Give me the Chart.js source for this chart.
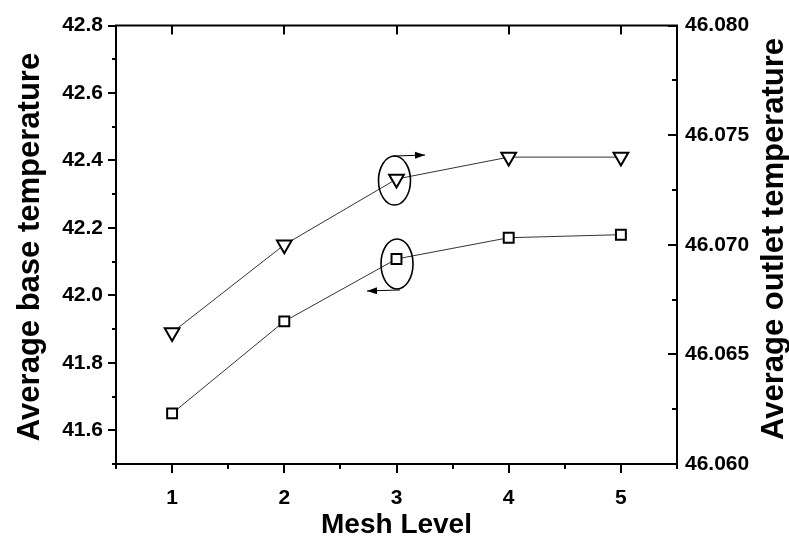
<!DOCTYPE html>
<html>
<head>
<meta charset="utf-8">
<script src="https://cdn.jsdelivr.net/npm/chart.js@4.4.0/dist/chart.umd.min.js"></script>
<style>
  html, body { margin: 0; padding: 0; background: #fff; }
  #wrap { width: 789px; height: 547px; }
</style>
</head>
<body>
<div id="wrap"><canvas id="c" width="789" height="547"></canvas></div>
<script>
// Mesh refinement study: base temperature (left axis) and outlet temperature (right axis)
const meshLevels = [1, 2, 3, 4, 5];
const baseTemperature = [41.650, 41.923, 42.108, 42.171, 42.180];
const outletTemperature = [46.0660, 46.0700, 46.0730, 46.0740, 46.0740];

const xTicks = [1, 2, 3, 4, 5];
const xMinorTicks = [0.5, 1.5, 2.5, 3.5, 4.5, 5.5];
const baseTicks = [41.6, 41.8, 42.0, 42.2, 42.4, 42.6, 42.8];
const baseMinorTicks = [41.5, 41.7, 41.9, 42.1, 42.3, 42.5, 42.7];
const outletTicks = [46.060, 46.065, 46.070, 46.075, 46.080];
const outletMinorTicks = [46.0625, 46.0675, 46.0725, 46.0775];

const xTitle = 'Mesh Level';
const baseTitle = 'Average base temperature';
const outletTitle = 'Average outlet temperature';

const FONT = '"Liberation Sans", Arial, sans-serif';

function fixedTicks(values) {
  return scale => { scale.ticks = values.map(v => ({ value: v })); };
}

// Frame, major/minor tick marks, rotated axis titles and the circled-point callouts
const decor = {
  id: 'decor',
  afterDraw(chart) {
    const { ctx, chartArea: a, scales: { x, y, y1 } } = chart;
    ctx.save();
    ctx.strokeStyle = '#000';
    ctx.lineWidth = 2;
    ctx.lineCap = 'butt';
    const seg = (x1, y1_, x2, y2) => { ctx.beginPath(); ctx.moveTo(x1, y1_); ctx.lineTo(x2, y2); ctx.stroke(); };

    // top frame line
    seg(a.left - 1, a.top, a.right + 1, a.top);

    // left axis: outward ticks
    baseTicks.forEach(v => { const p = Math.round(y.getPixelForValue(v)); seg(a.left - 8, p, a.left, p); });
    baseMinorTicks.forEach(v => { const p = Math.round(y.getPixelForValue(v)); seg(a.left - 4, p, a.left, p); });

    // right axis: inward ticks
    outletTicks.forEach(v => { const p = Math.round(y1.getPixelForValue(v)); seg(a.right - 9, p, a.right, p); });
    outletMinorTicks.forEach(v => { const p = Math.round(y1.getPixelForValue(v)); seg(a.right - 5, p, a.right, p); });

    // bottom axis: outward ticks; top edge: inward major ticks
    xTicks.forEach(v => {
      const p = Math.round(x.getPixelForValue(v));
      seg(p, a.bottom, p, a.bottom + 9);
      seg(p, a.top, p, a.top + 9);
    });
    xMinorTicks.forEach(v => { const p = Math.round(x.getPixelForValue(v)); seg(p, a.bottom, p, a.bottom + 5); });

    // vertical axis titles, both reading bottom to top
    ctx.fillStyle = '#000';
    ctx.font = 'bold 31px ' + FONT;
    ctx.textAlign = 'center';
    ctx.textBaseline = 'middle';
    ctx.save();
    ctx.translate(30, 247);
    ctx.rotate(-Math.PI / 2);
    ctx.fillText(baseTitle, 0, 0);
    ctx.restore();
    ctx.save();
    ctx.translate(774, 239);
    ctx.rotate(-Math.PI / 2);
    ctx.fillText(outletTitle, 0, 0);
    ctx.restore();

    // callouts: ellipse around the level-3 point of each series, arrow toward its axis
    const arrow = (x1, y1_, x2, y2) => {
      ctx.lineWidth = 1;
      seg(x1, y1_, x2, y2);
      const ang = Math.atan2(y2 - y1_, x2 - x1);
      const len = 10, hw = 3.5;
      ctx.beginPath();
      ctx.moveTo(x2, y2);
      ctx.lineTo(x2 - len * Math.cos(ang) + hw * Math.sin(ang), y2 - len * Math.sin(ang) - hw * Math.cos(ang));
      ctx.lineTo(x2 - len * Math.cos(ang) - hw * Math.sin(ang), y2 - len * Math.sin(ang) + hw * Math.cos(ang));
      ctx.closePath();
      ctx.fill();
    };
    ctx.lineWidth = 1.6;
    const tri = chart.getDatasetMeta(1).data[2];
    ctx.beginPath();
    ctx.ellipse(tri.x - 2, tri.y + 1.5, 16, 24.5, 0, 0, Math.PI * 2);
    ctx.stroke();
    arrow(tri.x - 3.5, tri.y - 23, tri.x + 28.5, tri.y - 24);

    ctx.lineWidth = 1.6;
    const sq = chart.getDatasetMeta(0).data[2];
    ctx.beginPath();
    ctx.ellipse(sq.x + 0.5, sq.y + 5, 16, 25, 0, 0, Math.PI * 2);
    ctx.stroke();
    arrow(sq.x + 3.5, sq.y + 31, sq.x - 29.5, sq.y + 32);

    ctx.restore();
  }
};

new Chart(document.getElementById('c'), {
  type: 'line',
  data: {
    datasets: [
      {
        label: baseTitle,
        data: meshLevels.map((m, i) => ({ x: m, y: baseTemperature[i] })),
        yAxisID: 'y',
        borderColor: '#333',
        borderWidth: 1,
        pointStyle: 'rect',
        pointRadius: 7,
        pointBorderColor: '#000',
        pointBorderWidth: 2,
        pointBackgroundColor: '#fff',
        tension: 0
      },
      {
        label: outletTitle,
        data: meshLevels.map((m, i) => ({ x: m, y: outletTemperature[i] })),
        yAxisID: 'y1',
        borderColor: '#333',
        borderWidth: 1,
        pointStyle: 'triangle',
        pointRotation: 180,
        pointRadius: 8.5,
        pointBorderColor: '#000',
        pointBorderWidth: 2,
        pointBackgroundColor: '#fff',
        tension: 0
      }
    ]
  },
  options: {
    responsive: false,
    devicePixelRatio: 1,
    animation: false,
    events: [],
    layout: { padding: { top: 21, left: 0, right: 0, bottom: 0 } },
    plugins: { legend: { display: false }, tooltip: { enabled: false } },
    scales: {
      x: {
        type: 'linear',
        position: 'bottom',
        min: 0.5,
        max: 5.5,
        afterBuildTicks: fixedTicks(xTicks),
        afterFit: s => { s.height = 83; },
        grid: { display: false, drawTicks: false },
        border: { display: true, color: '#000', width: 2 },
        ticks: {
          padding: 22,
          color: '#000',
          font: { family: FONT, size: 21, weight: 'bold' },
          maxRotation: 0,
          callback: v => String(v)
        },
        title: {
          display: true,
          text: xTitle,
          color: '#000',
          font: { family: FONT, size: 28, weight: 'bold' },
          padding: { top: 0, bottom: 5 }
        }
      },
      y: {
        type: 'linear',
        position: 'left',
        min: 41.5,
        max: 42.8,
        afterBuildTicks: fixedTicks(baseTicks),
        afterFit: s => { s.width = 116; },
        grid: { display: false, drawTicks: false },
        border: { display: true, color: '#000', width: 2 },
        ticks: {
          padding: 13,
          color: '#000',
          font: { family: FONT, size: 21, weight: 'bold' },
          callback: v => v.toFixed(1)
        }
      },
      y1: {
        type: 'linear',
        position: 'right',
        min: 46.060,
        max: 46.080,
        afterBuildTicks: fixedTicks(outletTicks),
        afterFit: s => { s.width = 112; },
        grid: { display: false, drawTicks: false },
        border: { display: true, color: '#000', width: 2 },
        ticks: {
          padding: 8,
          color: '#000',
          font: { family: FONT, size: 21, weight: 'bold' },
          callback: v => v.toFixed(3)
        }
      }
    }
  },
  plugins: [decor]
});
</script>
</body>
</html>
